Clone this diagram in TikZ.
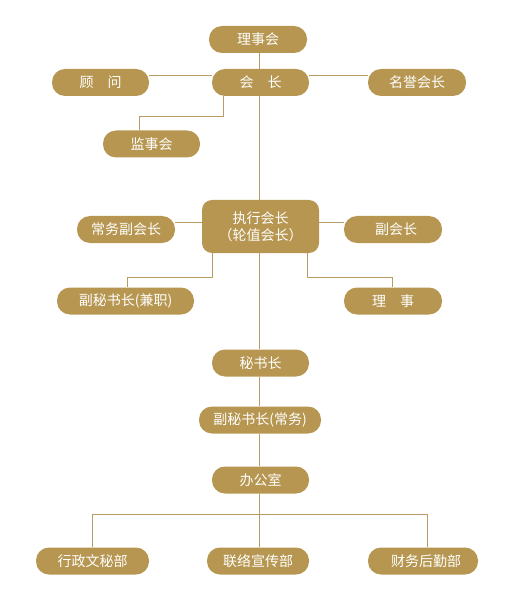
\documentclass[tikz,border=0pt]{standalone}
\usepackage{fontspec}
\newfontfamily\cjk{Noto Sans CJK SC}
\definecolor{gold}{HTML}{B69650}
\definecolor{goldline}{HTML}{B89C64}
\tikzset{
  box/.style={rectangle, rounded corners=13pt, fill=gold, text=white,
    minimum height=27pt, inner sep=0pt,
    font=\cjk\fontsize{14}{17}\selectfont},
  bigbox/.style={box, rounded corners=10pt, minimum height=53pt, align=center},
  link/.style={draw=goldline, line width=1pt}
}
\begin{document}
\begin{tikzpicture}[x=1pt,y=-1pt]
\useasboundingbox (0,0) rectangle (520,609);
% nodes
\node[box, minimum width=98pt] (lsh) at (258,39.5) {理事会};
\node[box, minimum width=97pt] (hz) at (260.5,82.5) {会\hspace{1em}长};
\node[box, minimum width=97pt] (gw) at (100.5,82.5) {顾\hspace{1em}问};
\node[box, minimum width=98pt] (myhz) at (417,82.5) {名誉会长};
\node[box, minimum width=97pt] (jsh) at (151.5,144) {监事会};
\node[bigbox, minimum width=117pt] (zx) at (260.5,226.5) {执行会长\\（轮值会长）};
\node[box, minimum width=98pt] (cwfhz) at (126,229.5) {常务副会长};
\node[box, minimum width=98pt] (fhz) at (393,229.5) {\hspace{6pt}副会长};
\node[box, minimum width=137pt] (fmsj) at (125.5,301) {副秘书长(兼职)};
\node[box, minimum width=98pt] (ls) at (393,301) {理\hspace{1em}事};
\node[box, minimum width=97pt] (msz) at (260.5,363) {秘书长};
\node[box, minimum width=122pt] (fmsc) at (260,420) {副秘书长(常务)};
\node[box, minimum width=97pt] (bgs) at (260.5,480) {办公室};
\node[box, minimum width=113pt] (xz) at (92.5,561) {行政文秘部};
\node[box, minimum width=102pt] (ll) at (258,561) {联络宣传部};
\node[box, minimum width=110pt] (cw) at (423,561) {\hspace{6pt}财务后勤部};
% helper coordinates
\coordinate (s) at (259,0);
\coordinate (jl) at (223,117);
\coordinate (jr) at (139,117);
\coordinate (fl) at (212,277);
\coordinate (fr) at (127,277);
\coordinate (ll1) at (307,277);
\coordinate (lr1) at (392,277);
\coordinate (bl) at (92,514);
\coordinate (br) at (427,514);
% connectors
\draw[link] (lsh.south -| s) -- (hz.north -| s);
\draw[link] (hz.south -| s) -- (zx.north -| s);
\draw[link] (zx.south -| s) -- (msz.north -| s);
\draw[link] (msz.south -| s) -- (fmsc.north -| s);
\draw[link] (fmsc.south -| s) -- (bgs.north -| s);
\draw[link] (bgs.south -| s) -- (ll.north -| s);
\draw[link] (gw.east |- 0,76) -- (hz.west |- 0,76);
\draw[link] (hz.east |- 0,76) -- (myhz.west |- 0,76);
\draw[link] (hz.south -| jl) -- (jl) -- (jr) -- (jsh.north -| jr);
\draw[link] (cwfhz.east |- 0,223) -- (zx.west |- 0,223);
\draw[link] (zx.east |- 0,223) -- (fhz.west |- 0,223);
\draw[link] (zx.south -| fl) -- (fl) -- (fr) -- (fmsj.north -| fr);
\draw[link] (zx.south -| ll1) -- (ll1) -- (lr1) -- (ls.north -| lr1);
\draw[link] (xz.north -| bl) -- (bl) -- (br) -- (cw.north -| br);
\end{tikzpicture}
\end{document}
